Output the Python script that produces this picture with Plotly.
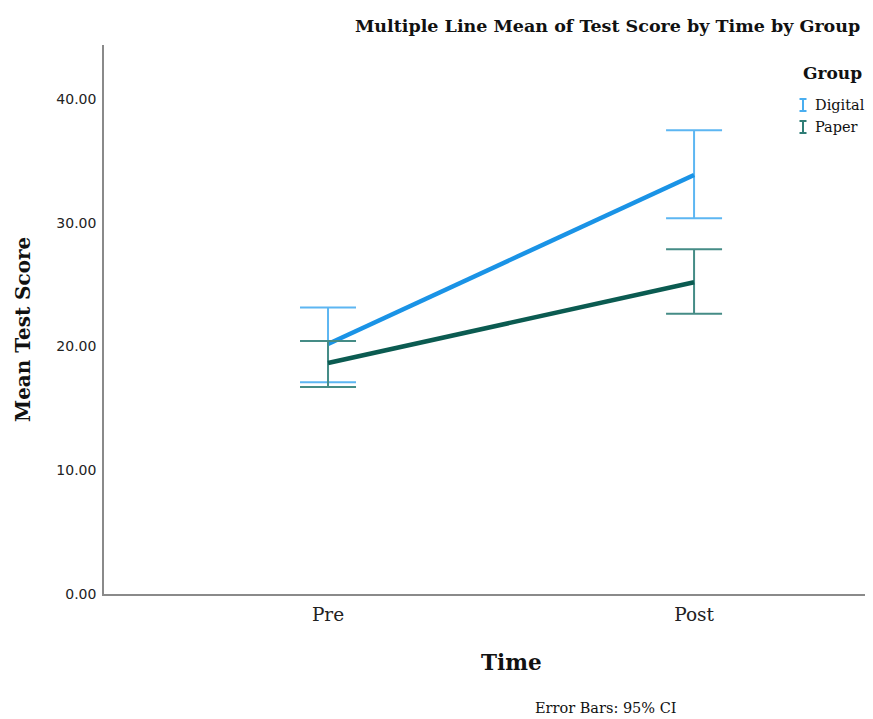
import plotly.graph_objects as go

# Data
times = ["Pre", "Post"]
groups = ["Digital", "Paper"]
digital_mean = [20.2, 33.86]
digital_upper = [23.14, 37.47]
digital_lower = [17.11, 30.36]
paper_mean = [18.67, 25.19]
paper_upper = [20.44, 27.85]
paper_lower = [16.73, 22.65]
y_ticks = [0, 10, 20, 30, 40]
y_tick_labels = ["0.00", "10.00", "20.00", "30.00", "40.00"]

line_colors = {"Digital": "#1a93e6", "Paper": "#0b5b51"}
err_colors = {"Digital": "#5db6f2", "Paper": "#458c86"}
legend_colors = {"Digital": "#4aaef0", "Paper": "#2f7d76"}

serif = "DejaVu Serif"
sans = "DejaVu Sans"

fig = go.Figure()
xpos = list(range(len(times)))
for g, m, up, lo in [("Digital", digital_mean, digital_upper, digital_lower),
                     ("Paper", paper_mean, paper_upper, paper_lower)]:
    fig.add_trace(go.Scatter(
        x=xpos, y=m, mode="lines", name=g,
        line=dict(color=line_colors[g], width=4.5),
        error_y=dict(type="data", symmetric=False,
                     array=[u - v for u, v in zip(up, m)],
                     arrayminus=[v - l for v, l in zip(m, lo)],
                     color=err_colors[g], thickness=2, width=28),
        showlegend=False,
    ))

# page body has an 8px margin: figure is drawn 8px right/down
fig.update_layout(
    width=857, height=711,
    margin=dict(l=96, r=0, t=37, b=125),
    paper_bgcolor="white", plot_bgcolor="white",
    xaxis=dict(range=[-0.612, 1.467], tickvals=xpos, ticktext=times,
               showgrid=False, zeroline=False, showline=True,
               linecolor="#8a8a8a", linewidth=1.5,
               tickfont=dict(family=serif, size=18.5, color="#222"),
               ticks="", ticklabelstandoff=3),
    yaxis=dict(range=[0, 44.36], tickvals=y_ticks, ticktext=y_tick_labels,
               showgrid=False, zeroline=False, showline=True,
               linecolor="#8a8a8a", linewidth=1.5,
               tickfont=dict(family=sans, size=14, color="#222"),
               ticks="", ticklabelstandoff=3),
    showlegend=False,
)

# helpers: screen pixel -> paper coords (plot area at screen x 104..865, y 45..594)
def px_x(X):
    return (X - 104) / 761

def px_y(Y):
    return (594 - Y) / 549

ann = [
    dict(text="<b>Multiple Line Mean of Test Score by Time by Group</b>",
         x=px_x(862), y=px_y(26), xanchor="right", yanchor="middle",
         font=dict(family=serif, size=17.5, color="#111")),
    dict(text="<b>Mean Test Score</b>", textangle=-90,
         x=px_x(23), y=px_y(330), xanchor="center", yanchor="middle",
         font=dict(family=serif, size=20, color="#111")),
    dict(text="<b>Time</b>",
         x=px_x(511), y=px_y(662), xanchor="center", yanchor="middle",
         font=dict(family=serif, size=21.5, color="#111")),
    dict(text="Error Bars: 95% CI",
         x=px_x(606), y=px_y(708), xanchor="center", yanchor="middle",
         font=dict(family=serif, size=14.5, color="#111")),
    dict(text="<b>Group</b>",
         x=px_x(801), y=px_y(73), xanchor="left", yanchor="middle",
         font=dict(family=serif, size=17, color="#111")),
]
legend_y = {"Digital": 105, "Paper": 127}
shapes = []
for g in groups:
    Y = legend_y[g]
    ann.append(dict(text=g, x=px_x(813), y=px_y(Y), xanchor="left", yanchor="middle",
                    font=dict(family=serif, size=14.5, color="#111")))
    for (x0, y0, x1, y1) in [(803, Y - 6, 803, Y + 6), (799.5, Y - 6, 806.5, Y - 6),
                             (799.5, Y + 6, 806.5, Y + 6)]:
        shapes.append(dict(type="line", xref="paper", yref="paper",
                           x0=px_x(x0), y0=px_y(y0), x1=px_x(x1), y1=px_y(y1),
                           line=dict(color=legend_colors[g], width=2)))
for a in ann:
    a.update(xref="paper", yref="paper", showarrow=False)
fig.update_layout(annotations=ann, shapes=shapes)

fig.write_html("out.html")
